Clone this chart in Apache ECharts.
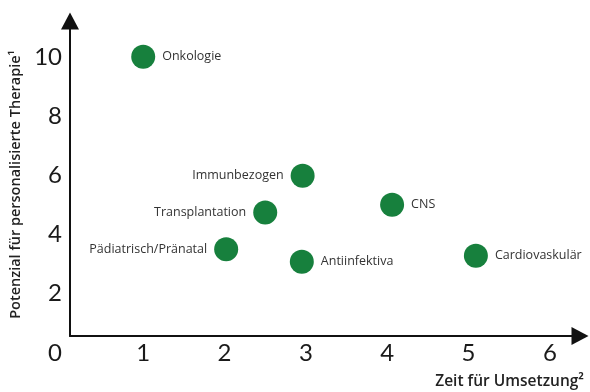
<!DOCTYPE html>
<html>
<head>
<meta charset="utf-8">
<script src="https://cdn.jsdelivr.net/npm/echarts@6/dist/echarts.min.js"></script>
<style>
  html, body { margin: 0; padding: 0; background: #fff; }
  #chart { width: 590px; height: 392px; }
</style>
</head>
<body>
<div id="chart"></div>
<script>
// Therapiegebiete: Zeit für Umsetzung (x) vs. Potenzial für personalisierte Therapie (y)
const areas = ['Onkologie', 'Immunbezogen', 'Transplantation', 'CNS', 'Pädiatrisch/Pränatal', 'Antiinfektiva', 'Cardiovaskulär'];
const zeit = [1.0, 2.96, 2.5, 4.06, 2.02, 2.95, 5.09];
const potenzial = [10.0, 5.98, 4.74, 5.0, 3.5, 3.08, 3.28];
const xTicks = [1, 2, 3, 4, 5, 6];
const yTicks = [2, 4, 6, 8, 10];

// axes cross a little inside the origin, like in the print
const xMin = 0.1, xMax = 6.37;
const yMin = 0.57, yMax = 11.21;
const labelLeft = new Set(['Immunbezogen', 'Transplantation', 'Pädiatrisch/Pränatal']);

const NUM_FONT = 'Lato, "Open Sans", sans-serif';
const TXT_FONT = '"Open Sans", Lato, sans-serif';
const GREEN = '#17803d';

const chart = echarts.init(document.getElementById('chart'));

const axisLine = {
  show: true,
  symbol: ['none', 'triangle'],
  symbolSize: [18, 17],
  lineStyle: { color: '#111', width: 2 }
};

chart.setOption({
  animation: false,
  grid: { left: 70, right: 10, top: 21, bottom: 56 },
  xAxis: {
    type: 'value',
    min: xMin,
    max: xMax,
    axisLine: axisLine,
    axisTick: { show: false },
    splitLine: { show: false },
    axisLabel: {
      customValues: xTicks,
      margin: 5,
      fontFamily: NUM_FONT,
      fontSize: 24,
      color: '#1a1a1a'
    },
    name: 'Zeit für Umsetzung²',
    nameLocation: 'end',
    nameGap: 4,
    nameTextStyle: {
      fontFamily: TXT_FONT,
      fontSize: 15.5,
      fontWeight: 600,
      color: '#222',
      align: 'right',
      verticalAlign: 'top',
      padding: [38, 0, 0, 0]
    }
  },
  yAxis: {
    type: 'value',
    min: yMin,
    max: yMax,
    axisLine: axisLine,
    axisTick: { show: false },
    splitLine: { show: false },
    axisLabel: {
      customValues: yTicks,
      margin: 8,
      fontFamily: NUM_FONT,
      fontSize: 24,
      color: '#1a1a1a'
    },
    name: 'Potenzial für personalisierte Therapie¹',
    nameLocation: 'middle',
    nameRotate: 90,
    nameGap: 45,
    nameTextStyle: {
      fontFamily: TXT_FONT,
      fontSize: 14.5,
      fontWeight: 600,
      color: '#222',
      padding: [0, 12, 0, 0]
    }
  },
  series: [{
    type: 'scatter',
    symbolSize: 24,
    itemStyle: { color: GREEN, opacity: 1 },
    data: areas.map((name, i) => ({
      name: name,
      value: [zeit[i], potenzial[i]],
      label: { position: labelLeft.has(name) ? 'left' : 'right' }
    })),
    label: {
      show: true,
      formatter: '{b}',
      distance: 7,
      fontFamily: TXT_FONT,
      fontSize: 12.5,
      color: '#333'
    }
  }]
});

// shared "0" at the origin corner
const originX = chart.convertToPixel({ xAxisIndex: 0 }, xMin) - 8;
const originY = chart.convertToPixel({ yAxisIndex: 0 }, 0);
chart.setOption({
  graphic: [{
    type: 'text',
    x: originX,
    y: originY,
    style: {
      text: '0',
      font: '24px ' + NUM_FONT,
      fill: '#1a1a1a',
      align: 'right',
      verticalAlign: 'middle'
    }
  }]
});
</script>
</body>
</html>
